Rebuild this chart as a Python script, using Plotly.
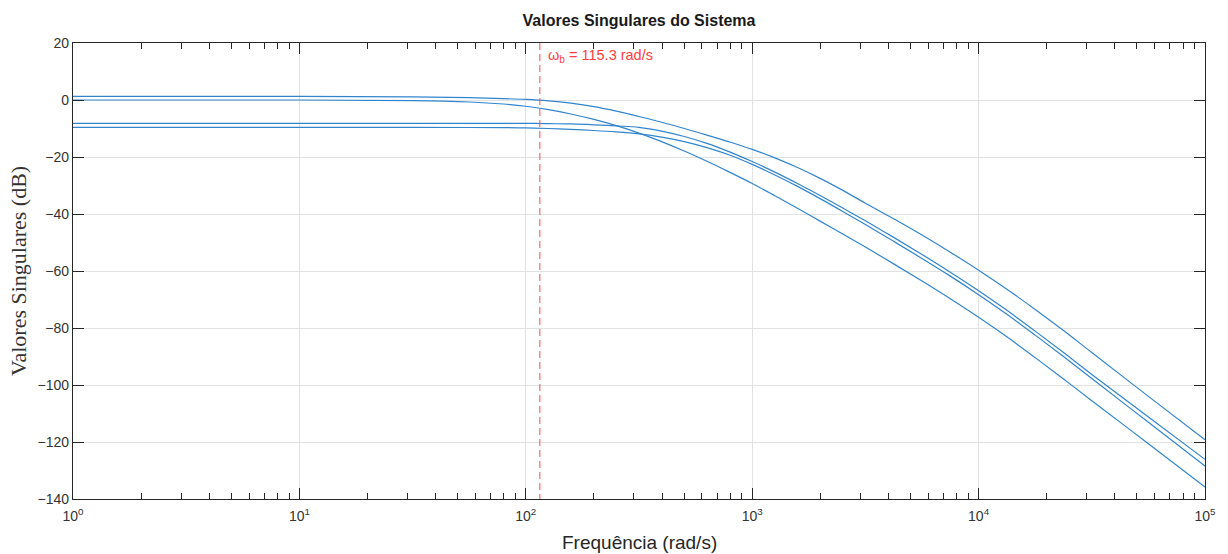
import numpy as np
import plotly.graph_objects as go

# ---- data ----
freq = [1, 10, 31.6, 56.2, 79.4, 100, 126, 158, 200, 251, 316, 398, 501, 631, 794,
        1000, 1259, 1585, 1995, 2512, 3162, 4217, 5623, 7499, 10000, 13335, 17783, 23714,
        31623, 56234, 100000]
sv1 = [1.3, 1.3, 1.1, 0.8, 0.5, 0.2, -0.3, -1.1, -2.3, -3.9, -5.8, -7.8, -10.0, -12.3, -14.7,
       -17.3, -20.3, -23.7, -27.5, -31.7, -36.2, -41.7, -47.4, -53.4, -59.7, -66.4, -73.5, -80.9,
       -88.6, -104.0, -119.2]
sv2 = [0.0, 0.0, -0.2, -0.7, -1.4, -2.2, -3.4, -4.9, -6.8, -9.0, -11.6, -14.6, -17.9, -21.5, -25.3,
       -29.3, -33.6, -38.0, -42.5, -47.0, -51.6, -57.5, -63.5, -69.7, -76.2, -83.1, -90.4, -97.9,
       -105.5, -120.6, -135.8]
sv3 = [-8.2, -8.2, -8.2, -8.2, -8.2, -8.2, -8.3, -8.4, -8.7, -9.1, -9.6, -10.9, -12.8, -15.2, -18.2,
       -21.6, -25.3, -29.3, -33.5, -37.9, -42.4, -48.2, -54.2, -60.4, -66.9, -73.8, -81.1, -88.6,
       -96.3, -111.2, -126.1]
sv4 = [-9.6, -9.6, -9.6, -9.65, -9.7, -9.8, -10.0, -10.3, -10.7, -11.2, -11.9, -13.0, -14.6, -16.7, -19.3,
       -22.6, -26.3, -30.3, -34.6, -39.1, -43.7, -49.6, -55.6, -61.8, -68.3, -75.2, -82.5, -90.0,
       -97.7, -113.1, -128.4]
wb = 115.3

x_ticks = [1, 10, 100, 1000, 10000, 100000]
x_ticktext = ["10<sup>0</sup>", "10<sup>1</sup>", "10<sup>2</sup>", "10<sup>3</sup>", "10<sup>4</sup>", "10<sup>5</sup>"]
y_ticks = [20, 0, -20, -40, -60, -80, -100, -120, -140]
minor_x = [m * d for d in [1, 10, 100, 1000, 10000] for m in range(2, 10)]

line_color = "rgb(50,133,205)"
axis_color = "#262626"
sans = "Liberation Sans, Arial, Helvetica, sans-serif"

fig = go.Figure()
for sv in [sv1, sv2, sv3, sv4]:
    fig.add_trace(go.Scatter(x=freq, y=sv, mode="lines",
                             line=dict(color=line_color, width=1.2, shape="spline", smoothing=1.0),
                             hoverinfo="skip"))

fig.add_trace(go.Scatter(x=[wb, wb], y=[y_ticks[0], y_ticks[-1]], mode="lines",
                         line=dict(color="rgba(255,80,80,0.8)", width=1.3, dash="7px,4px"),
                         hoverinfo="skip"))

fig.add_annotation(x=np.log10(wb), y=y_ticks[0], xref="x", yref="y",
                   text="ω<sub>b</sub> = 115.3 rad/s", showarrow=False,
                   xanchor="left", yanchor="top", xshift=6, yshift=-2,
                   font=dict(family=sans, size=14.5, color="#ff3b3b"))

# axis titles
fig.add_annotation(x=-(73 - 18) / 1132, y=0.5, xref="paper", yref="paper",
                   text="Valores Singulares (dB)", showarrow=False, textangle=-90,
                   xanchor="center", yanchor="middle",
                   font=dict(family="Liberation Serif, Times New Roman, serif", size=22, color="#333333"))
fig.add_annotation(x=0.5, y=-(542 - 499) / 456, xref="paper", yref="paper",
                   text="Frequência (rad/s)", showarrow=False,
                   xanchor="center", yanchor="middle",
                   font=dict(family=sans, size=19, color=axis_color))

fig.update_layout(
    width=1228, height=554,
    margin=dict(l=73, r=23, t=43, b=55),
    plot_bgcolor="white", paper_bgcolor="white",
    showlegend=False,
    title=dict(text="<b>Valores Singulares do Sistema</b>", x=0.5, xref="paper",
               y=1 - 20 / 554, yref="container", xanchor="center", yanchor="middle",
               font=dict(family=sans, size=16, color="#1a1a1a")),
)

fig.update_xaxes(type="log", range=[0, 5],
                 tickmode="array", tickvals=x_ticks, ticktext=x_ticktext,
                 ticks="inside", ticklen=11, tickwidth=1.2, tickcolor=axis_color,
                 showline=True, linecolor=axis_color, linewidth=1.3, mirror="allticks",
                 showgrid=True, gridcolor="#e2e2e2", gridwidth=1,
                 tickfont=dict(family=sans, size=14, color="#333333"),
                 ticklabelstandoff=4,
                 minor=dict(ticks="inside", ticklen=6, tickwidth=1, tickcolor=axis_color,
                            tickmode="array", tickvals=minor_x, showgrid=False),
                 zeroline=False)
fig.update_yaxes(range=[-140, 20], tickmode="array", tickvals=y_ticks,
                 ticks="inside", ticklen=11, tickwidth=1.2, tickcolor=axis_color,
                 showline=True, linecolor=axis_color, linewidth=1.3, mirror="allticks",
                 showgrid=True, gridcolor="#e2e2e2", gridwidth=1,
                 tickfont=dict(family=sans, size=14, color="#333333"),
                 zeroline=False)

fig.write_html("out.html")
